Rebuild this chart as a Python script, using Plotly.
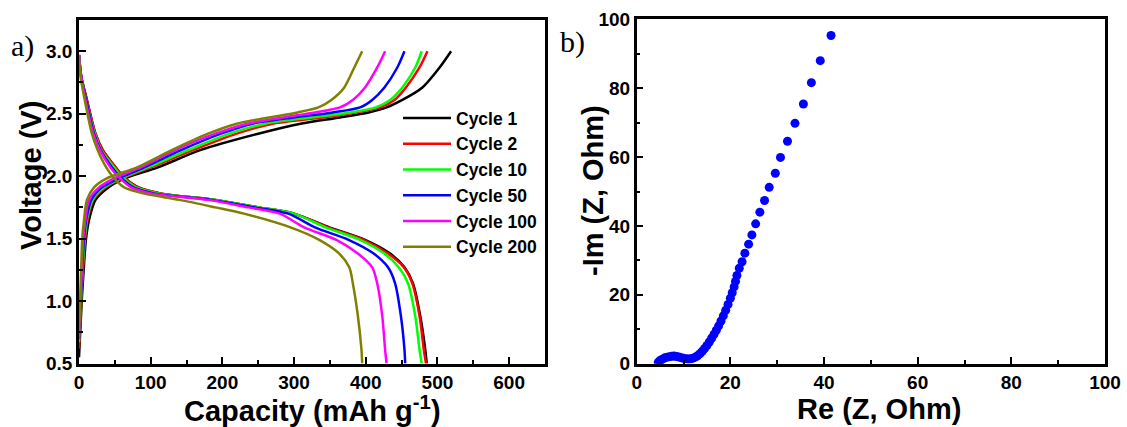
import plotly.graph_objects as go

# ---------------- data: galvanostatic curves ----------------
cycles = ["Cycle 1", "Cycle 2", "Cycle 10", "Cycle 50", "Cycle 100", "Cycle 200"]
colors = ["#000000", "#FF0000", "#00FF00", "#0000FF", "#FF00FF", "#808000"]

# discharge: voltage grid (V) and capacity per cycle (mAh/g)
dis_v = [2.97, 2.8, 2.61, 2.34, 2.21, 2.07, 1.99, 1.91, 1.86, 1.81, 1.75, 1.70,
         1.59, 1.49, 1.38, 1.27, 1.14, 0.88, 0.61, 0.5]
dis_c1 = [0, 3, 11, 23, 33, 51, 63, 83, 115, 190, 250, 300, 349, 399, 434, 454, 466, 476, 483, 485]
dis_c2 = [0, 3, 11, 23, 33, 51, 63, 83, 115, 190, 250, 300, 347, 397, 431, 453, 465, 475, 481, 484]
dis_c10 = [0, 3, 10, 22, 31, 49, 61, 80, 112, 190, 250, 300, 344, 392, 426, 446, 459, 469, 475, 478]
dis_c50 = [0, 3, 10, 21, 30, 46, 58, 76, 106, 185, 245, 292, 329, 376, 411, 431, 441, 449, 454, 455]
dis_c100 = [0, 3, 9, 20, 29, 44, 56, 73, 102, 180, 236, 280, 314, 359, 389, 409, 416, 423, 427, 429]
dis_c200 = [0, 2, 8, 18, 26, 38, 48, 63, 91, 140, 190, 230, 295, 335, 363, 377, 382, 389, 394, 395]

# charge: voltage grid (V) and capacity per cycle (mAh/g)
ch_v = [1.0, 1.25, 1.5, 1.65, 1.81, 1.91, 1.98, 2.07, 2.21, 2.34, 2.42, 2.47,
        2.51, 2.55, 2.61, 2.71, 2.87, 3.0]
ch_start_v = [0.55, 0.62, 0.67, 0.70, 0.70, 0.72]
ch_c1 = [3.8, 6.5, 9.8, 14, 23, 41, 63, 110, 170, 250, 309, 364, 404, 429, 451, 479, 503, 519]
ch_c2 = [3, 5.5, 8.5, 12, 20, 37, 60, 100, 160, 220, 270, 340, 385, 420, 440, 456, 475, 486]
ch_c10 = [2.8, 5, 8, 11, 19, 35, 58, 96, 153, 210, 260, 324, 379, 414, 434, 451, 469, 478]
ch_c50 = [2.5, 4.5, 7, 10, 17, 32, 55, 91, 143, 198, 242, 300, 354, 392, 409, 426, 444, 454]
ch_c100 = [2, 4, 6, 9, 14, 28, 48, 86, 135, 190, 235, 285, 329, 364, 382, 399, 416, 427]
ch_c200 = [1.5, 3, 4.5, 7, 11, 21, 38, 81, 130, 180, 220, 265, 305, 334, 352, 370, 384, 395]

dis_caps = [dis_c1, dis_c2, dis_c10, dis_c50, dis_c100, dis_c200]
ch_caps = [ch_c1, ch_c2, ch_c10, ch_c50, ch_c100, ch_c200]

# ---------------- data: Nyquist plot ----------------
re_z = [4.6, 4.9, 5.2, 5.6, 6.0, 6.5, 7.0, 7.5, 8.0, 8.5, 9.0, 9.5, 10.0, 10.5, 11.0,
        11.5, 12.0, 12.5, 13.0, 13.5, 14.0, 14.5, 15.0, 15.5, 16.0, 16.5, 17.0, 17.5,
        18.0, 18.5, 19.0, 19.5, 20.0, 20.4, 20.8, 21.1, 21.4, 21.9, 22.5, 23.1, 23.9,
        24.6, 25.4, 26.3, 27.3, 28.3, 29.6, 30.7, 32.2, 33.8, 35.6, 37.3, 39.2, 41.5]
im_z = [0.4, 0.8, 1.1, 1.4, 1.7, 1.9, 2.05, 2.15, 2.2, 2.1, 1.95, 1.75, 1.55, 1.45, 1.4,
        1.45, 1.6, 1.9, 2.3, 2.9, 3.6, 4.4, 5.3, 6.3, 7.4, 8.5, 9.7, 11.0,
        12.4, 13.9, 15.5, 17.2, 19.0, 20.6, 22.3, 23.9, 25.6, 27.7, 29.6, 32.1, 34.7,
        37.4, 40.6, 44.0, 47.4, 51.2, 55.3, 59.9, 64.6, 69.8, 75.4, 81.6, 88.0, 95.3]

FONT = "Liberation Sans, Arial, sans-serif"
W, H = 1127, 427

fig = go.Figure()
for i, name in enumerate(cycles):
    xs = dis_caps[i] + [None] + [0] + ch_caps[i]
    ys = dis_v + [None] + [ch_start_v[i]] + ch_v
    fig.add_trace(go.Scatter(
        x=xs, y=ys, mode="lines", name=name,
        line=dict(color=colors[i], width=2.5, shape="spline", smoothing=0.8),
        xaxis="x", yaxis="y", connectgaps=False))

fig.add_trace(go.Scatter(
    x=re_z, y=im_z, mode="markers", showlegend=False,
    marker=dict(color="#0000FF", size=9, line=dict(width=0)),
    xaxis="x2", yaxis="y2"))

axis_common = dict(
    showline=True, linecolor="black", linewidth=2.5, mirror=True,
    ticks="inside", ticklen=7, tickwidth=2, tickcolor="black",
    showgrid=False, zeroline=False, automargin=False,
    tickfont=dict(family=FONT, size=19, color="black", weight="bold"),
)
minor_common = dict(ticks="inside", ticklen=4, tickwidth=2, tickcolor="black", showgrid=False)


def px_x(p):
    return p / W


def px_y(p):
    return (H - p) / H


fig.update_layout(
    template="none",
    width=W, height=H, margin=dict(l=0, r=0, t=0, b=0, pad=0, autoexpand=False),
    paper_bgcolor="white", plot_bgcolor="white",
    xaxis=dict(domain=[px_x(79), px_x(545)], range=[0, 650], tickvals=[0, 100, 200, 300, 400, 500, 600],
               minor=dict(dtick=50, **minor_common), anchor="y", **axis_common),
    yaxis=dict(domain=[px_y(363.5), px_y(20)], range=[0.5, 3.25], tickvals=[0.5, 1.0, 1.5, 2.0, 2.5, 3.0],
               tickformat=".1f", minor=dict(dtick=0.25, **minor_common), anchor="x", **axis_common),
    xaxis2=dict(domain=[px_x(636.7), px_x(1105)], range=[0, 100], tickvals=[0, 20, 40, 60, 80, 100],
                minor=dict(dtick=10, **minor_common), anchor="y2", **axis_common),
    yaxis2=dict(domain=[px_y(363.7), px_y(19.3)], range=[0, 100], tickvals=[0, 20, 40, 60, 80, 100],
                minor=dict(dtick=10, **minor_common), anchor="x2", **axis_common),
    legend=dict(x=px_x(398), y=px_y(100), xanchor="left", yanchor="top",
                bgcolor="rgba(0,0,0,0)", borderwidth=0, itemwidth=48,
                font=dict(family=FONT, size=17.5, color="black", weight="bold"),
                tracegroupgap=0),
    showlegend=True,
)

title_font = dict(family=FONT, size=29, color="black", weight="bold")
serif_font = dict(family="Liberation Serif, Times New Roman, serif", size=30, color="black")
annos = [
    dict(text="Voltage (V)", x=px_x(31), y=px_y(176), textangle=-90, font=title_font),
    dict(text="Capacity (mAh g<sup>-1</sup>)", x=px_x(312), y=px_y(409), font=title_font),
    dict(text="-Im (Z, Ohm)", x=px_x(593), y=px_y(191), textangle=-90, font=title_font),
    dict(text="Re (Z, Ohm)", x=px_x(879), y=px_y(409), font=title_font),
    dict(text="a)", x=px_x(22), y=px_y(46), font=serif_font),
    dict(text="b)", x=px_x(572), y=px_y(42), font=serif_font),
]
for a in annos:
    fig.add_annotation(xref="paper", yref="paper", showarrow=False,
                       xanchor="center", yanchor="middle", **a)

fig.write_html("out.html")
